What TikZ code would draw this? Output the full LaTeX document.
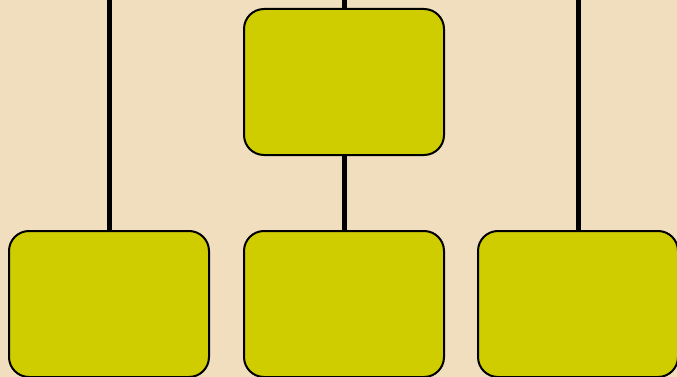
\documentclass[tikz,border=0pt]{standalone}
\usepackage{xcolor}
\usepackage{tikz}
\usetikzlibrary{positioning,calc}
\definecolor{orgparch}{HTML}{F0DEBF}
\definecolor{orgolive}{HTML}{CFCC00}

\begin{document}
\begin{tikzpicture}[x=1pt, y=-1pt,
   orgbox/.style={draw, line width=2pt, rounded corners=20pt, fill=orgolive,
                  minimum width=200pt, minimum height=146pt, inner sep=0pt},
   link/.style={line width=5pt}]
  \fill[orgparch] (0,0) rectangle (677,377);
  \useasboundingbox (0,0) rectangle (677,377);
  \node[orgbox] (head) at (344,82) {};
  \node[orgbox] (left) at (109,304) {};
  \node[orgbox] (mid) at (344,304) {};
  \node[orgbox] (right) at (578,304) {};
  \coordinate (topl) at (109,0);
  \coordinate (topm) at (344,0);
  \coordinate (topr) at (578,0);
  \draw[link] (topl) -- (left.north);
  \draw[link] (topm) -- (head.north);
  \draw[link] (head.south) -- (mid.north);
  \draw[link] (topr) -- (right.north);
\end{tikzpicture}
\end{document}
